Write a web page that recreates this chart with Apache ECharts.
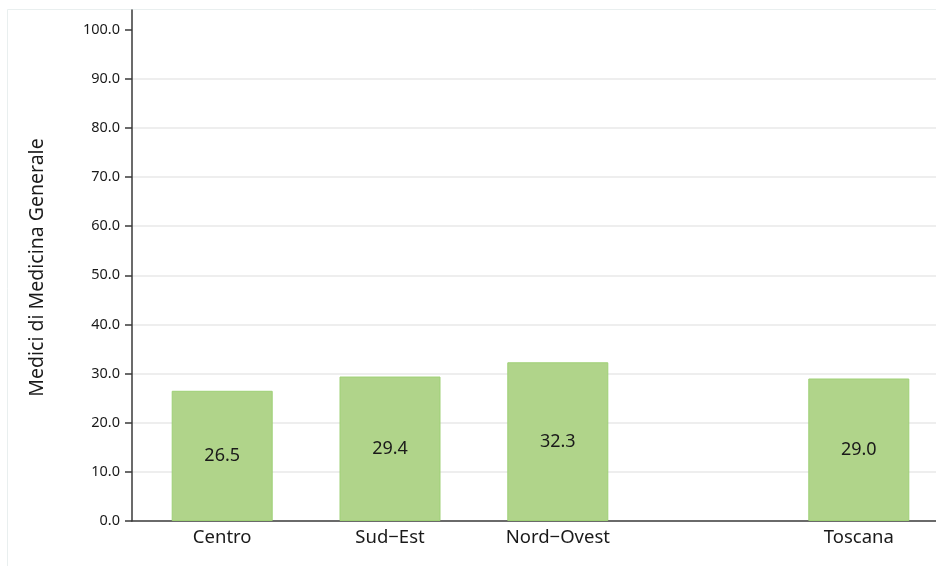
<!DOCTYPE html>
<html>
<head>
<meta charset="utf-8">
<script src="https://cdn.jsdelivr.net/npm/echarts@6/dist/echarts.min.js"></script>
<style>
  html, body { margin: 0; padding: 0; background: #ffffff; }
  #chart { width: 936px; height: 566px; }
</style>
</head>
<body>
<div id="chart"></div>
<script>
// Zone (ASL) groups and the regional reference value
const zoneCategories = ['Centro', 'Sud\u2212Est', 'Nord\u2212Ovest'];
const zoneValues = [26.5, 29.4, 32.3];
const regionCategories = ['Toscana'];
const regionValues = [29.0];
const yTickValues = [0, 10, 20, 30, 40, 50, 60, 70, 80, 90, 100];
const yAxisTitle = 'Medici di Medicina Generale';

const FONT = '"Noto Sans", sans-serif';
const TEXT = '#1a1a1a';
const BAR_FILL = '#b0d48a';
const BAR_EDGE = '#9fd076';
const BAR_WIDTH = 101;
const Y_MAX = 104;

const chart = echarts.init(document.getElementById('chart'), null, { renderer: 'canvas' });

const hiddenY = (gridIndex) => ({
  type: 'value', gridIndex: gridIndex, min: 0, max: Y_MAX, show: false
});

const categoryX = (gridIndex, data) => ({
  type: 'category', gridIndex: gridIndex, data: data,
  axisLine: { show: false }, axisTick: { show: false },
  axisLabel: { color: TEXT, fontFamily: FONT, fontSize: 18.5, margin: 7 }
});

const barSeries = (axisIndex, values) => ({
  type: 'bar',
  xAxisIndex: axisIndex,
  yAxisIndex: axisIndex,
  data: values,
  barWidth: BAR_WIDTH,
  itemStyle: { color: BAR_FILL, borderColor: BAR_EDGE, borderWidth: 1 },
  label: {
    show: true,
    position: 'inside',
    color: TEXT,
    fontFamily: FONT,
    fontSize: 18,
    formatter: (p) => Number(p.value).toFixed(1)
  },
  emphasis: { disabled: true },
  silent: true,
  animation: false
});

chart.setOption({
  animation: false,
  backgroundColor: '#ffffff',
  textStyle: { fontFamily: FONT },
  graphic: [{
    type: 'rect',
    silent: true,
    z: -10,
    shape: { x: 7.5, y: 9.5, width: 940, height: 570 },
    style: { fill: null, stroke: '#e9efef', lineWidth: 1 }
  }],
  grid: [
    // frame: value axis, gridlines and baseline across the full plot
    { left: 132, right: 0, top: 10, bottom: 45 },
    // zone group
    { left: 138.3, width: 503.4, top: 10, bottom: 45 },
    // regional bar
    { left: 781.6, width: 154.4, top: 10, bottom: 45 }
  ],
  xAxis: [
    {
      type: 'value', gridIndex: 0, min: 0, max: 1,
      axisLine: { show: true, lineStyle: { color: '#3a3a3a', width: 1.5 } },
      axisTick: { show: false }, axisLabel: { show: false }, splitLine: { show: false }
    },
    categoryX(1, zoneCategories),
    categoryX(2, regionCategories)
  ],
  yAxis: [
    {
      type: 'value', gridIndex: 0, min: 0, max: Y_MAX,
      name: yAxisTitle,
      nameLocation: 'middle',
      nameGap: 85,
      nameTextStyle: { color: TEXT, fontFamily: FONT, fontSize: 19.5, padding: [0, 4, 0, 0] },
      axisLine: { show: true, lineStyle: { color: '#3a3a3a', width: 1.5 } },
      axisTick: { show: true, length: 7, customValues: yTickValues, lineStyle: { color: '#3a3a3a', width: 1.5 } },
      axisLabel: {
        customValues: yTickValues,
        color: TEXT, fontFamily: FONT, fontSize: 14.5, margin: 12,
        formatter: (v) => Number(v).toFixed(1)
      },
      splitLine: {
        show: true, showMinLine: false, showMaxLine: false,
        lineStyle: { color: '#e8e8e8', width: 1.5 }
      }
    },
    hiddenY(1),
    hiddenY(2)
  ],
  series: [
    barSeries(1, zoneValues),
    barSeries(2, regionValues)
  ]
});
</script>
</body>
</html>
